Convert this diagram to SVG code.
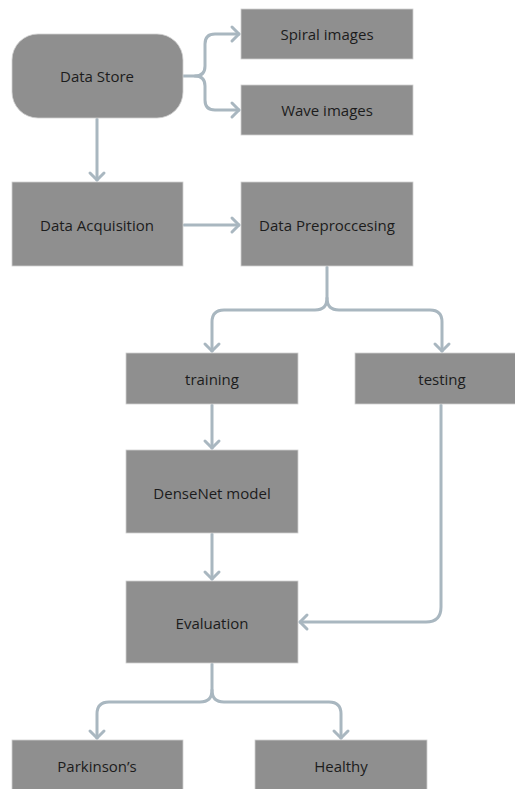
<svg xmlns="http://www.w3.org/2000/svg" width="515" height="789" viewBox="0 0 515 789">
<defs>
<style>
.box{fill:#8f8f8f;stroke:#d0d0d0;stroke-width:0.8}
.lbl{font-family:"Open Sans","Liberation Sans",sans-serif;font-size:15px;fill:#1c1c1c;text-anchor:middle;dominant-baseline:central}
.con{fill:none;stroke:#a9b7c0;stroke-width:3;stroke-linecap:round;stroke-linejoin:round}
</style>
<marker id="ah" markerUnits="userSpaceOnUse" markerWidth="20" markerHeight="20" refX="10" refY="10" orient="auto" viewBox="0 0 20 20">
<path d="M3,3 L10,10 L3,17" fill="none" stroke="#a9b7c0" stroke-width="3" stroke-linecap="round" stroke-linejoin="round"/>
</marker>
</defs>
<rect width="515" height="789" fill="#ffffff"/>
<g id="connectors">
<path class="con" d="M183,76 H195 Q205,76 205,66 V44 Q205,34 215,34 H239" marker-end="url(#ah)"/>
<path class="con" d="M195,76 Q205,76 205,86 V100 Q205,110 215,110 H239" marker-end="url(#ah)"/>
<path class="con" d="M97,119 V180" marker-end="url(#ah)"/>
<path class="con" d="M184,225 H239" marker-end="url(#ah)"/>
<path class="con" d="M327,267 V298 Q327,310 315,310 H224 Q212,310 212,322 V351" marker-end="url(#ah)"/>
<path class="con" d="M327,298 Q327,310 339,310 H430 Q442,310 442,322 V351" marker-end="url(#ah)"/>
<path class="con" d="M212,405 V448" marker-end="url(#ah)"/>
<path class="con" d="M212,534 V579" marker-end="url(#ah)"/>
<path class="con" d="M441,405 V607 Q441,622 426,622 H300" marker-end="url(#ah)"/>
<path class="con" d="M212,664 V690 Q212,702 200,702 H109 Q97,702 97,714 V738" marker-end="url(#ah)"/>
<path class="con" d="M212,690 Q212,702 224,702 H329 Q341,702 341,714 V738" marker-end="url(#ah)"/>
</g>
<g id="data-store"><rect class="box" x="12" y="34" width="171" height="84" rx="26" ry="26"/><text class="lbl" x="97" y="76">Data Store</text></g>
<g id="spiral-images"><rect class="box" x="241" y="9" width="172" height="50"/><text class="lbl" x="327" y="34">Spiral images</text></g>
<g id="wave-images"><rect class="box" x="241" y="85" width="172" height="50"/><text class="lbl" x="327" y="110">Wave images</text></g>
<g id="data-acquisition"><rect class="box" x="12" y="182" width="171" height="84"/><text class="lbl" x="97" y="225">Data Acquisition</text></g>
<g id="data-preprocessing"><rect class="box" x="241" y="182" width="172" height="84"/><text class="lbl" x="327" y="225">Data Preproccesing</text></g>
<g id="training"><rect class="box" x="126" y="353" width="172" height="51"/><text class="lbl" x="212" y="379">training</text></g>
<g id="testing"><rect class="box" x="355" y="353" width="174" height="51"/><text class="lbl" x="442" y="379">testing</text></g>
<g id="densenet"><rect class="box" x="126" y="450" width="172" height="83"/><text class="lbl" x="212" y="493">DenseNet model</text></g>
<g id="evaluation"><rect class="box" x="126" y="581" width="172" height="82"/><text class="lbl" x="212" y="623">Evaluation</text></g>
<g id="parkinsons"><rect class="box" x="12" y="740" width="171" height="60"/><text class="lbl" x="97" y="766">Parkinson’s</text></g>
<g id="healthy"><rect class="box" x="255" y="740" width="172" height="60"/><text class="lbl" x="341" y="766">Healthy</text></g>
</svg>
